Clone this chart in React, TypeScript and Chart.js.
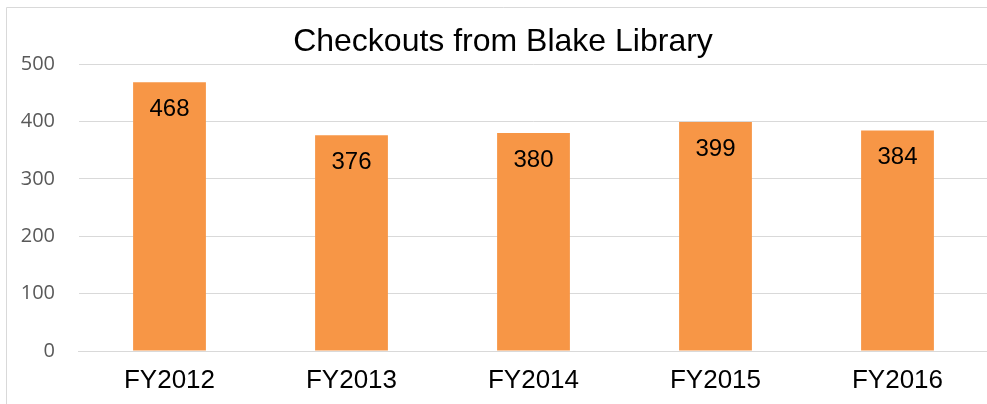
import React, { useEffect, useRef } from "react";
import { Chart, registerables } from "chart.js";

Chart.register(...registerables);

const TITLE = "Checkouts from Blake Library";
const categories = ["FY2012", "FY2013", "FY2014", "FY2015", "FY2016"];
const checkouts = [468, 376, 380, 399, 384];
const yTicks = [0, 100, 200, 300, 400, 500];

const frameAndLabels = {
  id: "frameAndLabels",
  beforeDraw(chart: any) {
    const ctx = chart.ctx;
    ctx.save();
    ctx.strokeStyle = "#d9d9d9";
    ctx.lineWidth = 1;
    ctx.beginPath();
    ctx.moveTo(6.5, chart.height);
    ctx.lineTo(6.5, 7.5);
    ctx.lineTo(chart.width, 7.5);
    ctx.stroke();
    ctx.restore();
  },
  afterDraw(chart: any) {
    const ctx = chart.ctx;
    ctx.save();
    ctx.fillStyle = "#000000";
    ctx.textAlign = "center";
    ctx.textBaseline = "middle";
    ctx.font = "32px 'Liberation Sans', Arial, sans-serif";
    ctx.fillText(TITLE, 503, 42);
    ctx.font = "24px 'Liberation Sans', Arial, sans-serif";
    const meta = chart.getDatasetMeta(0);
    meta.data.forEach((bar: any, i: number) => {
      ctx.fillText(String(checkouts[i]), bar.x, bar.y + 27);
    });
    ctx.restore();
  },
};

export default function App() {
  const ref = useRef<HTMLCanvasElement | null>(null);
  useEffect(() => {
    document.body.style.margin = "0";
    if (!ref.current) return;
    const chart = new Chart(ref.current, {
      type: "bar",
      data: {
        labels: categories,
        datasets: [
          {
            data: checkouts,
            backgroundColor: "#F79646",
            borderWidth: 0,
            categoryPercentage: 1,
            barPercentage: 0.4,
          },
        ],
      },
      options: {
        animation: false,
        responsive: false,
        maintainAspectRatio: false,
        layout: { padding: { left: 0, right: 11.5, top: 64, bottom: 0 } },
        plugins: {
          legend: { display: false },
          title: { display: false },
          tooltip: { enabled: false },
        },
        scales: {
          x: {
            grid: { display: false, drawTicks: false },
            border: { display: true, color: "#d9d9d9", width: 1 },
            ticks: {
              color: "#000000",
              padding: 14,
              font: { family: "'Liberation Sans', Arial, sans-serif", size: 26 },
            },
            afterFit: (s: any) => {
              s.height = 53;
            },
          },
          y: {
            min: 0,
            max: 500,
            afterBuildTicks: (s: any) => {
              s.ticks = yTicks.map((v) => ({ value: v }));
            },
            grid: { color: "#d9d9d9", lineWidth: 1, drawTicks: false },
            border: { display: false },
            ticks: {
              color: "#595959",
              padding: 23.5,
              font: { family: "'Open Sans', sans-serif", size: 20 },
            },
            afterFit: (s: any) => {
              s.width = 78.5;
            },
          },
        },
      },
      plugins: [frameAndLabels],
    });
    return () => chart.destroy();
  }, []);
  return (
    <div style={{ width: 987, height: 404, overflow: "hidden", background: "#fff" }}>
      <canvas ref={ref} width={1000} height={404} style={{ display: "block", width: 1000, height: 404 }} />
    </div>
  );
}
